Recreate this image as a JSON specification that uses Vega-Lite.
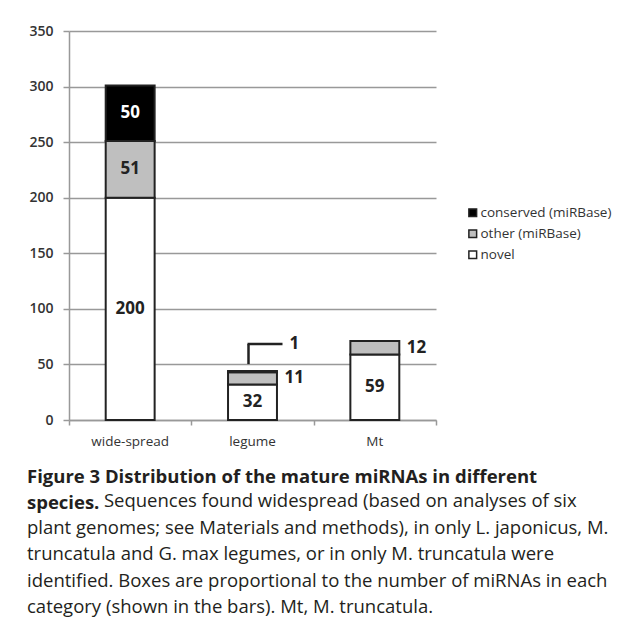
{
  "$schema": "https://vega.github.io/schema/vega-lite/v6.json",
  "autosize": {"type": "none"},
  "padding": {"left": 69, "top": 31, "right": 189, "bottom": 207},
  "width": 367,
  "height": 389,
  "background": "white",
  "config": {
    "view": {"stroke": null},
    "font": "Open Sans"
  },
  "title": {
    "text": ["Figure 3 Distribution of the mature miRNAs in different", "species."],
    "subtitle": ["\u200b\u00a0\u00a0\u00a0\u00a0\u00a0\u00a0\u00a0\u00a0\u00a0\u00a0\u00a0\u00a0\u00a0\u00a0\u00a0\u00a0Sequences found widespread (based on analyses of six", "plant genomes; see Materials and methods), in only L. japonicus, M.", "truncatula and G. max legumes, or in only M. truncatula were", "identified. Boxes are proportional to the number of miRNAs in each", "category (shown in the bars). Mt, M. truncatula."],
    "orient": "bottom",
    "anchor": "start",
    "frame": "group",
    "dx": -42,
    "offset": 20,
    "font": "Open Sans",
    "fontSize": 18.5,
    "fontWeight": "bold",
    "color": "#231f20",
    "lineHeight": 26.5,
    "subtitleFont": "Open Sans",
    "subtitleFontSize": 18.5,
    "subtitleFontWeight": "normal",
    "subtitleColor": "#231f20",
    "subtitleLineHeight": 26.5,
    "subtitlePadding": -20.5
  },
  "data": {
    "values": [
      {"category": "wide-spread", "type": "novel", "count": 200},
      {"category": "wide-spread", "type": "other (miRBase)", "count": 51},
      {"category": "wide-spread", "type": "conserved (miRBase)", "count": 50},
      {"category": "legume", "type": "novel", "count": 32},
      {"category": "legume", "type": "other (miRBase)", "count": 11},
      {"category": "legume", "type": "conserved (miRBase)", "count": 1},
      {"category": "Mt", "type": "novel", "count": 59},
      {"category": "Mt", "type": "other (miRBase)", "count": 12}
    ]
  },
  "transform": [
    {"calculate": "indexof(['novel','other (miRBase)','conserved (miRBase)'], datum.type)", "as": "k"},
    {"stack": "count", "groupby": ["category"], "sort": [{"field": "k", "order": "ascending"}], "as": ["y0", "y1"]},
    {"calculate": "(datum.y0 + datum.y1) / 2", "as": "mid"}
  ],
  "resolve": {"scale": {"x": "independent"}},
  "layer": [
    {
      "encoding": {
        "x": {
          "field": "category",
          "type": "nominal",
          "sort": ["wide-spread", "legume", "Mt"],
          "scale": {"paddingInner": 0, "paddingOuter": 0},
          "axis": {
            "title": null,
            "orient": "bottom",
            "ticks": false,
            "labelAngle": 0,
            "labelFont": "Open Sans",
            "labelFontSize": 13.5,
            "labelColor": "#333",
            "labelPadding": 14,
            "domainColor": "#999",
            "domainWidth": 1.5
          }
        }
      },
      "layer": [
        {
          "mark": {"type": "bar", "width": {"band": 0.4}, "stroke": "#222", "strokeWidth": 2},
          "encoding": {
            "y": {
              "field": "y0",
              "type": "quantitative",
              "scale": {"domain": [0, 350]},
              "axis": {
                "title": null,
                "values": [0, 50, 100, 150, 200, 250, 300, 350],
                "grid": true,
                "gridColor": "#999",
                "gridWidth": 1.5,
                "domainColor": "#999",
                "domainWidth": 1.5,
                "tickColor": "#999",
                "tickWidth": 1.5,
                "tickSize": 6,
                "labelFont": "Open Sans",
                "labelFontSize": 14,
                "labelFontWeight": 600,
                "labelColor": "#333",
                "labelPadding": 10
              }
            },
            "y2": {"field": "y1"},
            "color": {
              "field": "type",
              "type": "nominal",
              "scale": {"domain": ["conserved (miRBase)", "other (miRBase)", "novel"], "range": ["#000000", "#bfbfbf", "#ffffff"]},
              "legend": {
                "title": null,
                "orient": "none",
                "legendX": 397,
                "legendY": 175,
                "symbolType": "square",
                "symbolSize": 60,
                "symbolStrokeColor": "#222",
                "symbolStrokeWidth": 1.5,
                "labelFont": "Open Sans",
                "labelFontSize": 13.5,
                "labelColor": "#333",
                "labelOffset": 1,
                "rowPadding": 6
              }
            }
          }
        },
        {
          "transform": [{"filter": "datum.count >= 20"}],
          "mark": {"type": "text", "fontSize": 17, "fontWeight": "bold", "font": "Open Sans", "baseline": "middle"},
          "encoding": {
            "y": {"field": "mid", "type": "quantitative"},
            "text": {"field": "count", "type": "quantitative"},
            "color": {"condition": {"test": "datum.type === 'conserved (miRBase)'", "value": "#ffffff"}, "value": "#222222"}
          }
        },
        {
          "transform": [{"filter": "datum.count < 20 && datum.count >= 5"}],
          "mark": {"type": "text", "fontSize": 17, "fontWeight": "bold", "font": "Open Sans", "baseline": "middle", "align": "left", "dx": 32, "color": "#222222"},
          "encoding": {
            "y": {"field": "mid", "type": "quantitative"},
            "text": {"field": "count", "type": "quantitative"}
          }
        },
        {
          "transform": [{"filter": "datum.count < 5"}],
          "mark": {"type": "text", "fontSize": 17, "fontWeight": "bold", "font": "Open Sans", "baseline": "middle", "align": "left", "dx": 37, "dy": -27, "color": "#222222"},
          "encoding": {
            "y": {"field": "y1", "type": "quantitative"},
            "text": {"field": "count", "type": "quantitative"}
          }
        },
        {
          "transform": [{"filter": "datum.count < 5"}],
          "mark": {"type": "rule", "color": "#222222", "strokeWidth": 2.5, "xOffset": -4, "yOffset": -7, "y2Offset": -27},
          "encoding": {
            "y": {"field": "y1", "type": "quantitative"},
            "y2": {"field": "y1"}
          }
        },
        {
          "transform": [{"filter": "datum.count < 5"}],
          "mark": {"type": "rule", "color": "#222222", "strokeWidth": 2.5, "xOffset": -5, "x2Offset": 30, "yOffset": -27},
          "encoding": {
            "x2": {"field": "category"},
            "y": {"field": "y1", "type": "quantitative"}
          }
        }
      ]
    },
    {
      "mark": {"type": "rule", "opacity": 0},
      "encoding": {
        "x": {
          "datum": 0,
          "type": "quantitative",
          "scale": {"domain": [0, 3], "nice": false, "zero": false},
          "axis": {
            "title": null,
            "orient": "bottom",
            "values": [0, 1, 2, 3],
            "labels": false,
            "domain": false,
            "grid": false,
            "ticks": true,
            "tickSize": 5,
            "tickColor": "#999",
            "tickWidth": 1.5
          }
        }
      }
    }
  ]
}
